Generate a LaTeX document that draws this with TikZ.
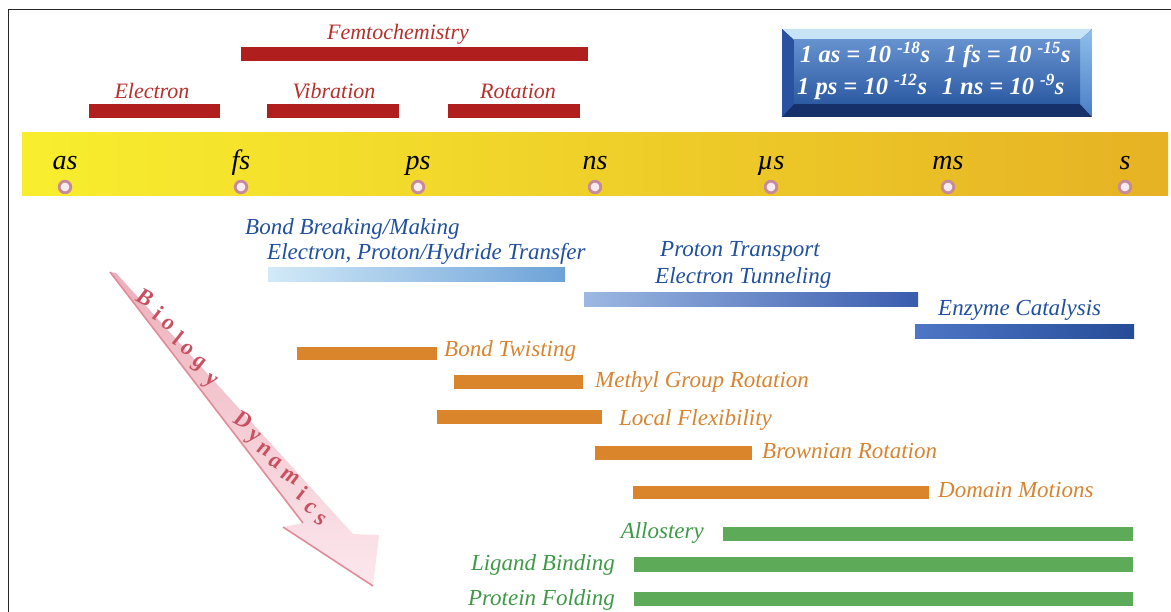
\documentclass[tikz,border=0pt]{standalone}
\usepackage{fontspec}
\setmainfont{Liberation Serif}
\definecolor{barred}{HTML}{B01E1E}
\definecolor{txtred}{HTML}{B8302C}
\definecolor{barorange}{HTML}{DA842C}
\definecolor{txtorange}{HTML}{D88430}
\definecolor{bargreen}{HTML}{5DAA58}
\definecolor{txtgreen}{HTML}{3E9A46}
\definecolor{txtblue}{HTML}{2050A0}
\definecolor{bandyellow}{HTML}{F8EE2E}
\definecolor{bandmid}{HTML}{F5E02A}
\definecolor{bandgold}{HTML}{E6B224}
\definecolor{ringpink}{HTML}{C88A9A}
\definecolor{dotpink}{HTML}{F8ECF0}
\definecolor{arrowdark}{HTML}{EDB0BA}
\definecolor{arrowlight}{HTML}{FCE8EE}
\definecolor{arrowedge}{HTML}{E08C9A}
\definecolor{arrowtxt}{HTML}{C8505F}
\definecolor{boxnavy}{HTML}{16306A}
\definecolor{boxface}{HTML}{4A7EC6}
\definecolor{boxfacedark}{HTML}{2C5AA2}
\definecolor{boxlight}{HTML}{C6E4F6}
\definecolor{boxside}{HTML}{2A52A0}
\definecolor{boxright}{HTML}{8EC0EA}
\definecolor{bbA}{HTML}{D2EAF8}
\definecolor{bbB}{HTML}{6EA2D8}
\definecolor{bcA}{HTML}{9CB8E2}
\definecolor{bcB}{HTML}{3A5CAE}
\definecolor{bdA}{HTML}{4E76C6}
\definecolor{bdB}{HTML}{264C98}
\begin{document}
\begin{tikzpicture}[x=1pt,y=-1pt,
  lbl/.style={font=\fontsize{23}{25}\selectfont\itshape, inner sep=0pt},
  redlbl/.style={font=\fontsize{22}{24}\selectfont\itshape, inner sep=0pt, text=txtred, anchor=base},
  bluelbl/.style={lbl, text=txtblue, anchor=base west},
  orangelbl/.style={lbl, text=txtorange, anchor=base west},
  greenlbl/.style={lbl, text=txtgreen, anchor=base east},
  ticklbl/.style={font=\fontsize{28}{30}\selectfont\itshape, inner sep=0pt, anchor=base},
  marker/.style={draw=ringpink, line width=2.8pt, fill=dotpink},
  boxtxt/.style={font=\fontsize{24.5}{26}\selectfont\bfseries\itshape, text=white, inner sep=0pt, anchor=base west},
  bio/.style={font=\fontsize{23}{25}\selectfont\bfseries\itshape, text=arrowtxt, inner sep=0pt, rotate=-28}
]
\useasboundingbox (0,0) rectangle (1171,612);
\fill[white] (0,0) rectangle (1171,612);
% frame
\draw[line width=1pt, black!85] (8,612) -- (8,10) -- (1171,10);

% red bars
\fill[barred] (241,47) rectangle (588,61);
\node[redlbl] (femto) at (398,40) {Femtochemistry};
\fill[barred] (89,104) rectangle (220,118);
\node[redlbl] (elec) at (152,99) {Electron};
\fill[barred] (267,104) rectangle (399,118);
\node[redlbl] (vib) at (334,99) {Vibration};
\fill[barred] (448,104) rectangle (580,118);
\node[redlbl] (rot) at (518,99) {Rotation};

% unit box
\fill[boxnavy] (782,29) rectangle (1092,117);
\fill[boxlight] (782,29) -- (1092,29) -- (1080,40) -- (794,40) -- cycle;
\fill[boxside] (782,29) -- (794,40) -- (794,104) -- (782,117) -- cycle;
\shade[top color=boxright, bottom color=boxface] (1092,29) -- (1080,40) -- (1080,104) -- (1092,117) -- cycle;
\shade[top color=boxface!85!white, bottom color=boxfacedark] (794,40) rectangle (1080,104);
\node[boxtxt] (u1) at (800,63) {1 as = 10\ \textsuperscript{-18}s\hspace{0.6em}1 fs = 10\ \textsuperscript{-15}s};
\node[boxtxt] (u2) at (797,95) {1 ps = 10\ \textsuperscript{-12}s\hspace{0.6em}1 ns = 10\ \textsuperscript{-9}s};

% time band
\shade[left color=bandyellow, middle color=bandmid, right color=bandgold] (22,133) rectangle (1168,196);
\foreach \x/\n/\t in {65/as/as, 241/fs/fs, 418/ps/ps, 595/ns/ns, 771/us/µs, 948/ms/ms, 1125/s/s}{
  \node[ticklbl] (t\n) at (\x,170) {\t};
  \draw[marker] (\x,187) circle (5.8);
}

% blue bars
\shade[left color=bbA, right color=bbB] (268,268) rectangle (565,282);
\node[bluelbl] (bbm) at (245,235) {Bond Breaking/Making};
\node[bluelbl] (epht) at (267,260) {Electron, Proton/Hydride Transfer};
\shade[left color=bcA, right color=bcB] (584,293) rectangle (918,307);
\node[bluelbl] (pt) at (660,257) {Proton Transport};
\node[bluelbl] (et) at (655,284) {Electron Tunneling};
\shade[left color=bdA, right color=bdB] (915,325) rectangle (1134,339);
\node[bluelbl] (ec) at (938,316) {Enzyme Catalysis};

% orange bars
\fill[barorange] (297,347) rectangle (437,360);
\node[orangelbl] (bt) at (444,357) {Bond Twisting};
\fill[barorange] (454,375) rectangle (583,389);
\node[orangelbl] (mgr) at (595,388) {Methyl Group Rotation};
\fill[barorange] (437,410) rectangle (602,424);
\node[orangelbl] (lf) at (619,425) {Local Flexibility};
\fill[barorange] (595,446) rectangle (752,460);
\node[orangelbl] (br) at (762,459) {Brownian Rotation};
\fill[barorange] (633,486) rectangle (929,499);
\node[orangelbl] (dm) at (938,497) {Domain Motions};

% green bars
\fill[bargreen] (723,527) rectangle (1133,541);
\node[greenlbl] (allo) at (704,538) {Allostery};
\fill[bargreen] (634,557) rectangle (1133,572);
\node[greenlbl] (lig) at (615,570) {Ligand Binding};
\fill[bargreen] (634,592) rectangle (1133,606);
\node[greenlbl] (pf) at (615,605) {Protein Folding};

% biology dynamics arrow
\shade[top color=arrowdark, bottom color=arrowlight]
  (110,272) -- (303,523) -- (283,527) -- (373,586) -- (379,535) -- (353,534) -- (116,273) -- cycle;
\draw[arrowedge, line width=1.6pt] (110,272) -- (303,523);
\draw[arrowedge, line width=1.6pt] (283,527) -- (373,586);
\foreach \x/\y/\c [count=\i] in {145/297/B, 158/313/i, 168/325/o, 178/338/l, 187/350/o, 198/365/g, 210/382/y,
  243/420/D, 253/438/y, 264/450/n, 275/463/a, 290/477/m, 302/493/i, 310/508/c, 320/520/s}{
  \node[bio] (bio\i) at (\x,\y) {\c};
}
\end{tikzpicture}
\end{document}
